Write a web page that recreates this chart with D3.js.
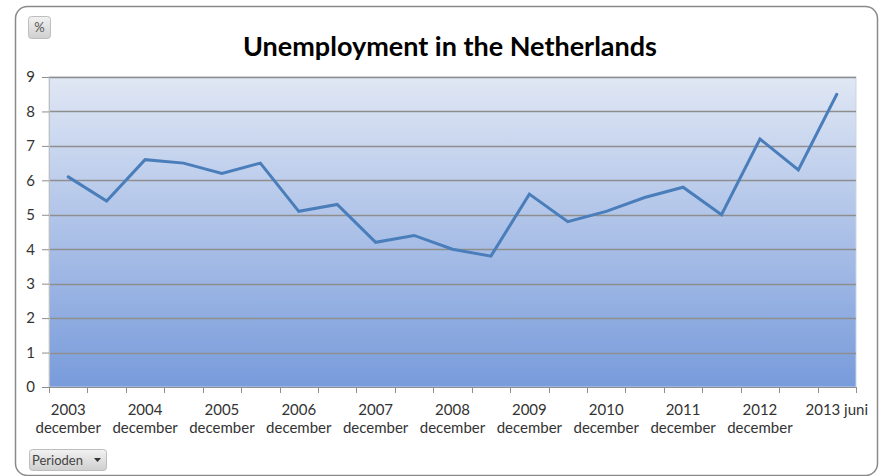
<!DOCTYPE html>
<html>
<head>
<meta charset="utf-8">
<script src="https://cdn.jsdelivr.net/npm/d3@7/dist/d3.min.js"></script>
<style>
  html, body { margin: 0; padding: 0; background: #ffffff; }
  svg { display: block; }
  text { font-family: Lato, "Noto Sans", sans-serif; }
</style>
</head>
<body>
<svg id="chart" width="880" height="476"></svg>
<script>
// ---- data ----
const years = ["2003","2004","2004","2005","2005","2006","2006","2007","2007","2008","2008",
               "2009","2009","2010","2010","2011","2011","2012","2012","2013","2013"];
const months = ["december","juni","december","juni","december","juni","december","juni","december","juni","december",
                "juni","december","juni","december","juni","december","juni","december","maart","juni"];
const values = [6.1, 5.4, 6.6, 6.5, 6.2, 6.5, 5.1, 5.3, 4.2, 4.4, 4.0,
                3.8, 5.6, 4.8, 5.1, 5.5, 5.8, 5.0, 7.2, 6.3, 8.5];
const yTicks = [0,1,2,3,4,5,6,7,8,9];
const title = "Unemployment in the Netherlands";
const unitLabel = "%";
const filterLabel = "Perioden";

// ---- layout ----
const svg = d3.select("#chart");
const plot = { left: 49, right: 856, top: 77, bottom: 387 };
const idx = d3.range(values.length);

const x = d3.scaleBand().domain(idx).range([plot.left, plot.right]).padding(0);
const y = d3.scaleLinear().domain([0, 9]).range([plot.bottom, plot.top]);

const defs = svg.append("defs");
const grad = defs.append("linearGradient").attr("id", "bg").attr("x1", 0).attr("y1", 0).attr("x2", 0).attr("y2", 1);
grad.append("stop").attr("offset", "0%").attr("stop-color", "#e0e7f4");
grad.append("stop").attr("offset", "100%").attr("stop-color", "#789bdb");

const bgrad = defs.append("linearGradient").attr("id", "btn").attr("x1", 0).attr("y1", 0).attr("x2", 0).attr("y2", 1);
bgrad.append("stop").attr("offset", "0%").attr("stop-color", "#f2f2f2");
bgrad.append("stop").attr("offset", "100%").attr("stop-color", "#cfcfcf");

// outer frame
svg.append("rect")
  .attr("x", 15.5).attr("y", 6.5).attr("width", 862).attr("height", 469)
  .attr("rx", 12).attr("ry", 12)
  .attr("fill", "#ffffff").attr("stroke", "#8a8a8a").attr("stroke-width", 1.5);

// plot area
svg.append("rect")
  .attr("x", plot.left).attr("y", plot.top)
  .attr("width", plot.right - plot.left).attr("height", plot.bottom - plot.top)
  .attr("fill", "url(#bg)")
  .attr("stroke", "#c9d3e6").attr("stroke-width", 1);

// gridlines
svg.append("g").selectAll("line").data(yTicks.filter(d => d > 0)).join("line")
  .attr("x1", plot.left).attr("x2", plot.right)
  .attr("y1", d => Math.round(y(d)) + 0.5).attr("y2", d => Math.round(y(d)) + 0.5)
  .attr("stroke", "#8e8e8e").attr("stroke-width", 1.3);

// y axis
const yAxis = d3.axisLeft(y).tickValues(yTicks).tickSize(7).tickPadding(7).tickFormat(d3.format("d"));
const gy = svg.append("g").attr("transform", `translate(${plot.left},0)`).call(yAxis);
gy.select(".domain").attr("stroke", "#c0c0c0");
gy.selectAll(".tick line").attr("stroke", "#8e8e8e");
gy.selectAll(".tick text").attr("font-size", 15).attr("fill", "#333").attr("font-family", "Lato, sans-serif");

// x axis ticks at band boundaries
const boundaries = idx.map(i => x(i)).concat([plot.right]);
svg.append("g").selectAll("line").data(boundaries).join("line")
  .attr("x1", d => Math.round(d) + 0.5).attr("x2", d => Math.round(d) + 0.5)
  .attr("y1", plot.bottom).attr("y2", plot.bottom + 6)
  .attr("stroke", "#8e8e8e").attr("stroke-width", 1);
svg.append("line")
  .attr("x1", plot.left).attr("x2", plot.right)
  .attr("y1", plot.bottom + 0.5).attr("y2", plot.bottom + 0.5)
  .attr("stroke", "#8e8e8e").attr("stroke-width", 1);

// x labels (every other category)
const lab = svg.append("g").selectAll("text").data(idx.filter(i => i % 2 === 0)).join("text")
  .attr("x", i => x(i) + x.bandwidth() / 2)
  .attr("y", 415)
  .attr("text-anchor", "middle")
  .attr("font-size", 15).attr("fill", "#333");
lab.each(function(i) {
  const t = d3.select(this);
  if (i === values.length - 1) {
    t.append("tspan").attr("x", x(i) + x.bandwidth() / 2).text(years[i] + " " + months[i]);
  } else {
    t.append("tspan").attr("x", x(i) + x.bandwidth() / 2).text(years[i]);
    t.append("tspan").attr("x", x(i) + x.bandwidth() / 2).attr("dy", 18).text(months[i]);
  }
});

// line
const line = d3.line().x((d, i) => x(i) + x.bandwidth() / 2).y(d => y(d));
svg.append("path").datum(values)
  .attr("d", line)
  .attr("fill", "none").attr("stroke", "#4a7ebb").attr("stroke-width", 3)
  .attr("stroke-linejoin", "miter").attr("stroke-linecap", "round");

// title
svg.append("text")
  .attr("x", 450).attr("y", 56)
  .attr("text-anchor", "middle")
  .attr("font-size", 27).attr("font-weight", "bold").attr("fill", "#000")
  .text(title);

// % button
svg.append("rect").attr("x", 28.5).attr("y", 16.5).attr("width", 22).attr("height", 22).attr("rx", 3)
  .attr("fill", "url(#btn)").attr("stroke", "#bdbdbd");
svg.append("text").attr("x", 39.5).attr("y", 32).attr("text-anchor", "middle")
  .attr("font-size", 13).attr("fill", "#555").text(unitLabel);

// Perioden button
svg.append("rect").attr("x", 29.5).attr("y", 449.5).attr("width", 77).attr("height", 21).attr("rx", 3)
  .attr("fill", "url(#btn)").attr("stroke", "#bdbdbd");
svg.append("text").attr("x", 32).attr("y", 465).attr("font-size", 13).attr("fill", "#444").text(filterLabel);
svg.append("path").attr("d", "M94,458 L101,458 L97.5,462 Z").attr("fill", "#333");
</script>
</body>
</html>
